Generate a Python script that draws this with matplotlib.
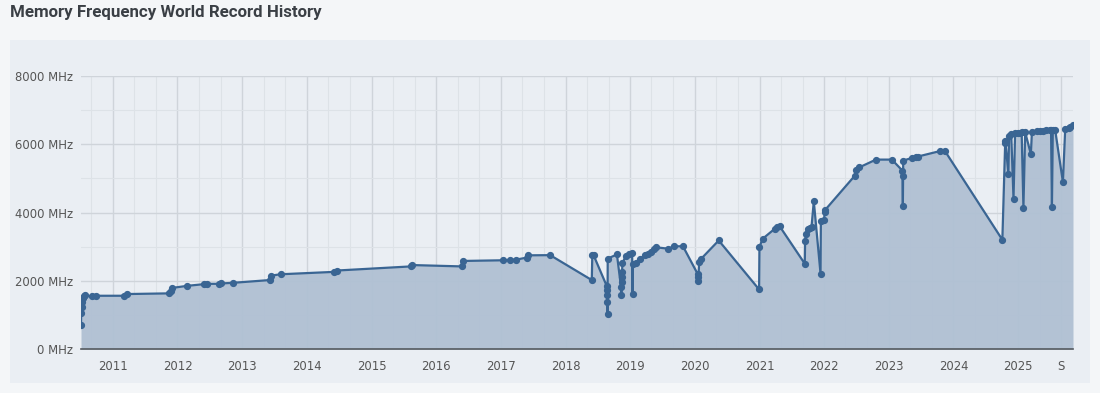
import numpy as np
import pandas as pd
import matplotlib
matplotlib.use("Agg")
import matplotlib.pyplot as plt
from matplotlib.patches import Rectangle

# record dates and frequencies (MHz)
dates = [
    "2010-07-05", "2010-07-06", "2010-07-08", "2010-07-10", "2010-07-14", "2010-07-20",
    "2010-07-25", "2010-09-05", "2010-09-26", "2011-03-03", "2011-03-20", "2011-11-13",
    "2011-11-24", "2011-12-02", "2012-02-24", "2012-05-29", "2012-06-17", "2012-08-22",
    "2012-09-02", "2012-11-11", "2013-06-05", "2013-06-11", "2013-08-06", "2014-06-04",
    "2014-06-21", "2015-08-11", "2015-08-17", "2016-05-24", "2016-06-01", "2017-01-15",
    "2017-02-22", "2017-03-28", "2017-05-29", "2017-06-04", "2017-10-06", "2018-05-29",
    "2018-06-01", "2018-06-08", "2018-08-22", "2018-08-23", "2018-08-24", "2018-08-25",
    "2018-08-26", "2018-08-27", "2018-10-18", "2018-11-10", "2018-11-12", "2018-11-14",
    "2018-11-15", "2018-11-16", "2018-11-18", "2018-12-06", "2018-12-25", "2019-01-12",
    "2019-01-14", "2019-01-16", "2019-02-04", "2019-02-27", "2019-03-28", "2019-04-10",
    "2019-04-30", "2019-05-18", "2019-05-28", "2019-08-02", "2019-09-08", "2019-10-26",
    "2020-01-17", "2020-01-19", "2020-01-21", "2020-01-26", "2020-02-07", "2020-05-15",
    "2020-12-29", "2020-12-31", "2021-01-18", "2021-03-28", "2021-04-10", "2021-04-25",
    "2021-09-13", "2021-09-15", "2021-09-19", "2021-10-02", "2021-10-12", "2021-10-21",
    "2021-11-03", "2021-12-11", "2021-12-13", "2021-12-30", "2022-01-05", "2022-01-07",
    "2022-06-23", "2022-07-02", "2022-07-17", "2022-10-20", "2023-01-18", "2023-03-18",
    "2023-03-19", "2023-03-21", "2023-03-23", "2023-05-11", "2023-06-03", "2023-06-14",
    "2023-10-17", "2023-11-14", "2024-10-03", "2024-10-19", "2024-10-20", "2024-11-06",
    "2024-11-10", "2024-11-22", "2024-12-05", "2024-12-14", "2025-01-01", "2025-01-12",
    "2025-01-20", "2025-01-30", "2025-02-09", "2025-03-13", "2025-03-19", "2025-04-16",
    "2025-05-05", "2025-05-22", "2025-06-08", "2025-06-30", "2025-07-05", "2025-07-10",
    "2025-07-15", "2025-07-28", "2025-09-10", "2025-09-23", "2025-10-12", "2025-10-20",
    "2025-11-06",
]
mhz = [
    700, 1060, 1230, 1380, 1480, 1550,
    1570, 1540, 1560, 1560, 1610, 1630,
    1700, 1790, 1850, 1900, 1910, 1910,
    1920, 1940, 2020, 2150, 2190, 2260,
    2300, 2420, 2460, 2420, 2580, 2600,
    2610, 2620, 2680, 2745, 2750, 2020,
    2765, 2750, 1840, 1720, 1575, 1380,
    1040, 2650, 2770, 1820, 1590, 1970,
    2120, 2260, 2510, 2715, 2790, 2810,
    1625, 2500, 2530, 2650, 2745, 2790,
    2840, 2940, 2980, 2940, 3010, 3010,
    2200, 1990, 2100, 2550, 2650, 3180,
    1745, 2990, 3230, 3525, 3570, 3590,
    2500, 3160, 3380, 3525, 3560, 3570,
    4330, 2210, 3740, 3790, 4010, 4080,
    5080, 5250, 5320, 5550, 5550, 5230,
    5080, 4200, 5520, 5600, 5630, 5640,
    5800, 5800, 3200, 6050, 6100, 5130,
    6250, 6300, 4400, 6330, 6340, 6340,
    6350, 4140, 6350, 5710, 6360, 6380,
    6390, 6400, 6410, 6420, 6430, 4170,
    6430, 6430, 4890, 6450, 6480, 6500,
    6560,
]

x_labels = ["2011", "2012", "2013", "2014", "2015", "2016", "2017", "2018",
            "2019", "2020", "2021", "2022", "2023", "2024", "2025", "S"]
x_label_dates = [f"{y}-01-01" for y in range(2011, 2026)] + ["2025-09-01"]
y_ticks = [0, 2000, 4000, 6000, 8000]

t = pd.to_datetime(dates)
tick_t = pd.to_datetime(x_label_dates)

line_col = "#3a6593"
fill_col = "#b0c0d3"
panel_col = "#eaeef3"
text_col = "#555555"

fig = plt.figure(figsize=(11, 3.93), dpi=100)
fig.patch.set_facecolor("#f4f6f8")

# grey panel behind the chart
panel = Rectangle((10 / 1100, 10 / 393), 1080 / 1100, 343 / 393,
                  transform=fig.transFigure, facecolor=panel_col,
                  edgecolor="none", zorder=-5)
fig.patches.append(panel)

fig.text(10 / 1100, 1 - 12 / 393, "Memory Frequency World Record History",
         fontsize=12.2, fontweight="bold", color="#3a3f45", va="center", ha="left",
         family=["Roboto", "DejaVu Sans"])

ax = fig.add_axes([81 / 1100, 44 / 393, 992 / 1100, 273 / 393])
ax.set_facecolor("none")
ax.set_zorder(2)

ax.fill_between(t, mhz, 0, color=fill_col, alpha=0.95, linewidth=0, zorder=2)
ax.plot(t, mhz, color=line_col, lw=1.6, marker="o", ms=4.2, zorder=3)

# gridlines: yearly major, every 4 months minor
minor_t = pd.date_range("2010-05-01", "2025-12-31", freq="4MS")
minor_t = [d for d in minor_t if d.month != 1 and d not in set(tick_t)]
ax.set_xticks(tick_t)
ax.set_xticklabels(x_labels)
ax.set_xticks(minor_t, minor=True)
ax.set_yticks(y_ticks)
ax.set_yticklabels([f"{v} MHz" for v in y_ticks])
ax.set_yticks(np.arange(1000, 8000, 2000), minor=True)

# limits after ticks, so the tick lists do not widen the view
ax.set_xlim(t[0], t[-1])
ax.set_ylim(0, 8000)

ax.grid(which="major", color="#cfd4da", lw=1.0, zorder=1)
ax.grid(which="minor", color="#dde2e7", lw=0.8, zorder=1)
ax.set_axisbelow(True)

for s in ["top", "right", "left"]:
    ax.spines[s].set_visible(False)
ax.spines["bottom"].set_color("#555a60")
ax.spines["bottom"].set_linewidth(1.2)
ax.spines["bottom"].set_zorder(4)

ax.tick_params(which="both", length=0)
ax.tick_params(axis="x", pad=8, labelsize=8.4, labelcolor=text_col)
ax.tick_params(axis="y", pad=6, labelsize=8.4, labelcolor=text_col)

fig.savefig("out.png", dpi=100, facecolor=fig.get_facecolor())
